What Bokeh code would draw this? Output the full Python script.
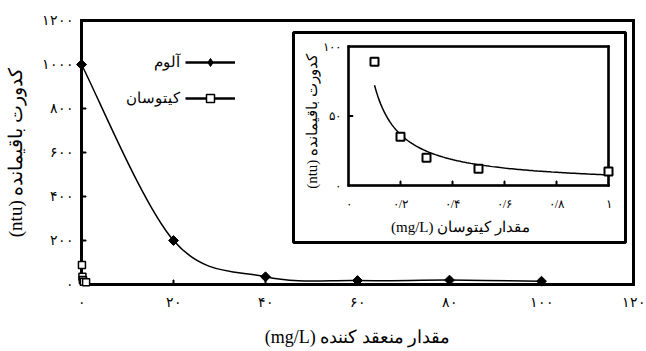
import numpy as np
from bokeh.plotting import figure
from bokeh.models import Range1d, FixedTicker, Legend, LegendItem, Label
from bokeh.core.properties import value
from bokeh.embed import file_html
from bokeh.resources import INLINE

# ---------------- data ----------------
alum_dose = [0, 20, 40, 60, 80, 100]
alum_turb = [1000, 200, 35, 18, 20, 15]
chit_dose = [0.1, 0.2, 0.3, 0.5, 1.0]
chit_turb = [89, 35, 20, 12, 10]

main_x_ticks = [0, 20, 40, 60, 80, 100, 120]
main_x_labels = ["۰", "۲۰", "۴۰", "۶۰", "۸۰", "۱۰۰", "۱۲۰"]
main_y_ticks = [0, 200, 400, 600, 800, 1000, 1200]
main_y_labels = ["۰", "۲۰۰", "۴۰۰", "۶۰۰", "۸۰۰", "۱۰۰۰", "۱۲۰۰"]
inset_x_ticks = [0, 0.2, 0.4, 0.6, 0.8, 1]
inset_x_labels = ["۰", "۰/۲", "۰/۴", "۰/۶", "۰/۸", "۱"]
inset_y_ticks = [0, 50, 100]
inset_y_labels = ["۰", "۵۰", "۱۰۰"]

legend_labels = ["آلوم", "کیتوسان"]
y_title = "کدورت باقیمانده (ntu)"
x_title = "مقدار منعقد کننده (mg/L)"
inset_x_title = "مقدار کیتوسان (mg/L)"

RLE, PDF = "\u202b", "\u202c"
FONT = "Liberation Serif"


def rtl(s):
    return RLE + s + PDF


# ---------------- layout constants (pixels) ----------------
W, H = 646, 351
AL, AR, AT, AB = 81, 633, 20, 284          # main axes box
PAD = 6                                    # frame margin so edge markers are not clipped
FL, FR, FT, FB = AL - PAD, AR + PAD, AT - PAD, AB + PAD   # plot frame
IL, IR, IT, IB = 348, 608, 46, 185         # inset plot area
BL, BR, BT, BB = 293, 625, 32, 242         # inset outer box
X0, X1 = main_x_ticks[0], main_x_ticks[-1]
Y0, Y1 = main_y_ticks[0], main_y_ticks[-1]
IX0, IX1 = inset_x_ticks[0], inset_x_ticks[-1]
IY0, IY1 = inset_y_ticks[0], inset_y_ticks[-1]
TICK = 5

msx = (AR - AL) / (X1 - X0)
msy = (AB - AT) / (Y1 - Y0)
isx = (IR - IL) / (IX1 - IX0)
isy = (IB - IT) / (IY1 - IY0)


def mpx(px):
    return X0 + (px - AL) / msx


def mpy(py):
    return Y0 + (AB - py) / msy


def ipx(px):
    return IX0 + (px - IL) / isx


def ipy(py):
    return IY0 + (IB - py) / isy


def frame_bars(L, R, T, B, lw, xticks_px, yticks_px, tlw):
    """Pixel rectangles (left, right, top, bottom) for a box outline and inward ticks."""
    h = lw / 2.0
    bars = [(L - h, R + h, T - h, T + h), (L - h, R + h, B - h, B + h),
            (L - h, L + h, T - h, B + h), (R - h, R + h, T - h, B + h)]
    t = tlw / 2.0
    for x in xticks_px:
        bars.append((x - t, x + t, B - TICK, B))
    for y in yticks_px:
        bars.append((L, L + TICK, y - t, y + t))
    return bars


def add_bars(fig, bars, fx, fy, **kw):
    # core filled rectangle shrunk by 0.5px per side, plus a 1px stroke -> exact thickness
    fig.quad(left=[fx(b[0] + 0.5) for b in bars], right=[fx(b[1] - 0.5) for b in bars],
             top=[fy(b[2] + 0.5) for b in bars], bottom=[fy(b[3] - 0.5) for b in bars],
             fill_color="black", line_color="black", line_width=1, **kw)


# ---------------- main figure ----------------
p = figure(width=W, height=H, x_range=Range1d(mpx(FL), mpx(FR)),
           y_range=Range1d(mpy(FB), mpy(FT)),
           output_backend="svg", toolbar_location=None,
           min_border_left=FL, min_border_right=W - FR, min_border_top=FT,
           min_border_bottom=H - FB)
p.extra_x_ranges = {"ix": Range1d(ipx(FL), ipx(FR))}
p.extra_y_ranges = {"iy": Range1d(ipy(FB), ipy(FT))}

p.xaxis.ticker = FixedTicker(ticks=main_x_ticks)
p.yaxis.ticker = FixedTicker(ticks=main_y_ticks)
p.xaxis.major_label_overrides = {t: l for t, l in zip(main_x_ticks, main_x_labels)}
p.yaxis.major_label_overrides = {t: l for t, l in zip(main_y_ticks, main_y_labels)}
for ax in (p.xaxis[0], p.yaxis[0]):
    ax.axis_line_color = None
    ax.major_tick_line_color = None
    ax.minor_tick_line_color = None
    ax.major_tick_in = 0
    ax.major_tick_out = 0
    ax.major_label_text_font = FONT
    ax.major_label_text_font_size = "14px"
    ax.major_label_text_color = "black"
    ax.axis_label_text_font = FONT
    ax.axis_label_text_font_style = "normal"
    ax.axis_label_text_color = "black"
    ax.axis_label_text_font_size = "18px"
p.xaxis.axis_label = rtl(x_title)
p.yaxis.axis_label = rtl(y_title)
p.yaxis.axis_label_text_font_size = "19px"
p.xaxis.major_label_standoff = 10 - PAD
p.yaxis.major_label_standoff = 8 - PAD
p.xaxis.axis_label_standoff = 14
p.yaxis.axis_label_standoff = 13
p.grid.visible = False
p.outline_line_color = None

# main axes box and inward ticks, drawn as thin filled bars
main_xt_px = [AL + (t - X0) * msx for t in main_x_ticks[1:-1]]
main_yt_px = [AB - (t - Y0) * msy for t in main_y_ticks[1:-1]]
add_bars(p, frame_bars(AL, AR, AT, AB, 3, main_xt_px, main_yt_px, 2), mpx, mpy)

# smoothed line through alum points (cubic Bezier segments, Excel-style smoothing)
P = np.column_stack([alum_dose, alum_turb]).astype(float)
prev = np.vstack([P[0], P[:-1]])
nxt = np.vstack([P[1:], P[-1]])
c0 = P[:-1] + (P[1:] - prev[:-1]) / 6.0
c1 = P[1:] - (nxt[1:] - P[:-1]) / 6.0
p.bezier(x0=P[:-1, 0], y0=P[:-1, 1], x1=P[1:, 0], y1=P[1:, 1],
         cx0=c0[:, 0], cy0=c0[:, 1], cx1=c1[:, 0], cy1=c1[:, 1],
         line_color="black", line_width=1.5)
p.line(chit_dose, chit_turb, line_color="black", line_width=1.2)
p.scatter(alum_dose, alum_turb, marker="square", angle=np.pi / 4, size=7,
          fill_color="black", line_color="black")
p.scatter(chit_dose, chit_turb, marker="square", size=7, fill_color="white",
          line_color="black", line_width=1.5)

# legend: hidden renderers (same data) supply the legend glyph styling
la = p.line(alum_dose, alum_turb, line_color="black", line_width=2.7, visible=False)
ma = p.scatter(alum_dose, alum_turb, marker="diamond", size=10,
               fill_color="black", line_color="black", visible=False)
lc = p.line(chit_dose, chit_turb, line_color="black", line_width=2.7, visible=False)
mc = p.scatter(chit_dose, chit_turb, marker="square", size=7, fill_color="white",
               line_color="black", line_width=1.5, visible=False)
legend = Legend(items=[LegendItem(label=" ", renderers=[la, ma]),
                       LegendItem(label=" ", renderers=[lc, mc])],
                location=(185 - FL, FB - 107.5), padding=0, margin=0, spacing=16,
                glyph_width=50, glyph_height=20, label_height=20, label_width=1,
                label_standoff=0, background_fill_alpha=0, border_line_alpha=0)
p.add_layout(legend)
for txt, py in zip(legend_labels, [61.5, 97.5]):
    p.add_layout(Label(x=mpx(179), y=mpy(py), text=txt, text_align="right",
                       text_baseline="middle", text_font=FONT, text_font_size="15px",
                       text_color="black"))

# ---------------- inset (drawn in its own coordinate system) ----------------
kw = dict(x_range_name="ix", y_range_name="iy")
p.quad(left=[ipx(BL)], right=[ipx(BR)], top=[ipy(BT)], bottom=[ipy(BB)],
       fill_color="white", line_color="black", line_width=3, **kw)
inset_xt_px = [IL + (t - IX0) * isx for t in inset_x_ticks[1:-1]]
inset_yt_px = [IB - (t - IY0) * isy for t in inset_y_ticks[1:-1]]
add_bars(p, frame_bars(IL, IR, IT, IB, 2.5, inset_xt_px, inset_yt_px, 2), ipx, ipy, **kw)
p.text(x=inset_x_ticks, y=[IY0] * len(inset_x_ticks), text=inset_x_labels,
       y_offset=18, text_align="center", text_baseline="middle",
       text_font=value(FONT), text_font_size="12px", text_color="black", **kw)
p.text(x=[IX0] * len(inset_y_ticks), y=inset_y_ticks, text=inset_y_labels,
       x_offset=-8, text_align="right", text_baseline="middle",
       text_font=value(FONT), text_font_size="12px", text_color="black", **kw)
p.text(x=[ipx(460)], y=[IY0], text=[rtl(inset_x_title)], y_offset=41,
       text_align="center", text_baseline="middle",
       text_font=value(FONT), text_font_size="15px", text_color="black", **kw)
p.text(x=[ipx(311)], y=[ipy(121)], text=[rtl(y_title)], angle=np.pi / 2,
       text_align="center", text_baseline="middle",
       text_font=value(FONT), text_font_size="15px", text_color="black", **kw)

# power trendline fitted to the chitosan points
b, lna = np.polyfit(np.log(chit_dose), np.log(chit_turb), 1)
xf = np.linspace(min(chit_dose), max(chit_dose), 120)
p.line(xf, np.exp(lna) * xf ** b, line_color="black", line_width=1.5, **kw)
p.scatter(chit_dose, chit_turb, marker="square", size=8, fill_color="white",
          line_color="black", line_width=2, **kw)

open("out.html", "w").write(file_html(p, INLINE))
